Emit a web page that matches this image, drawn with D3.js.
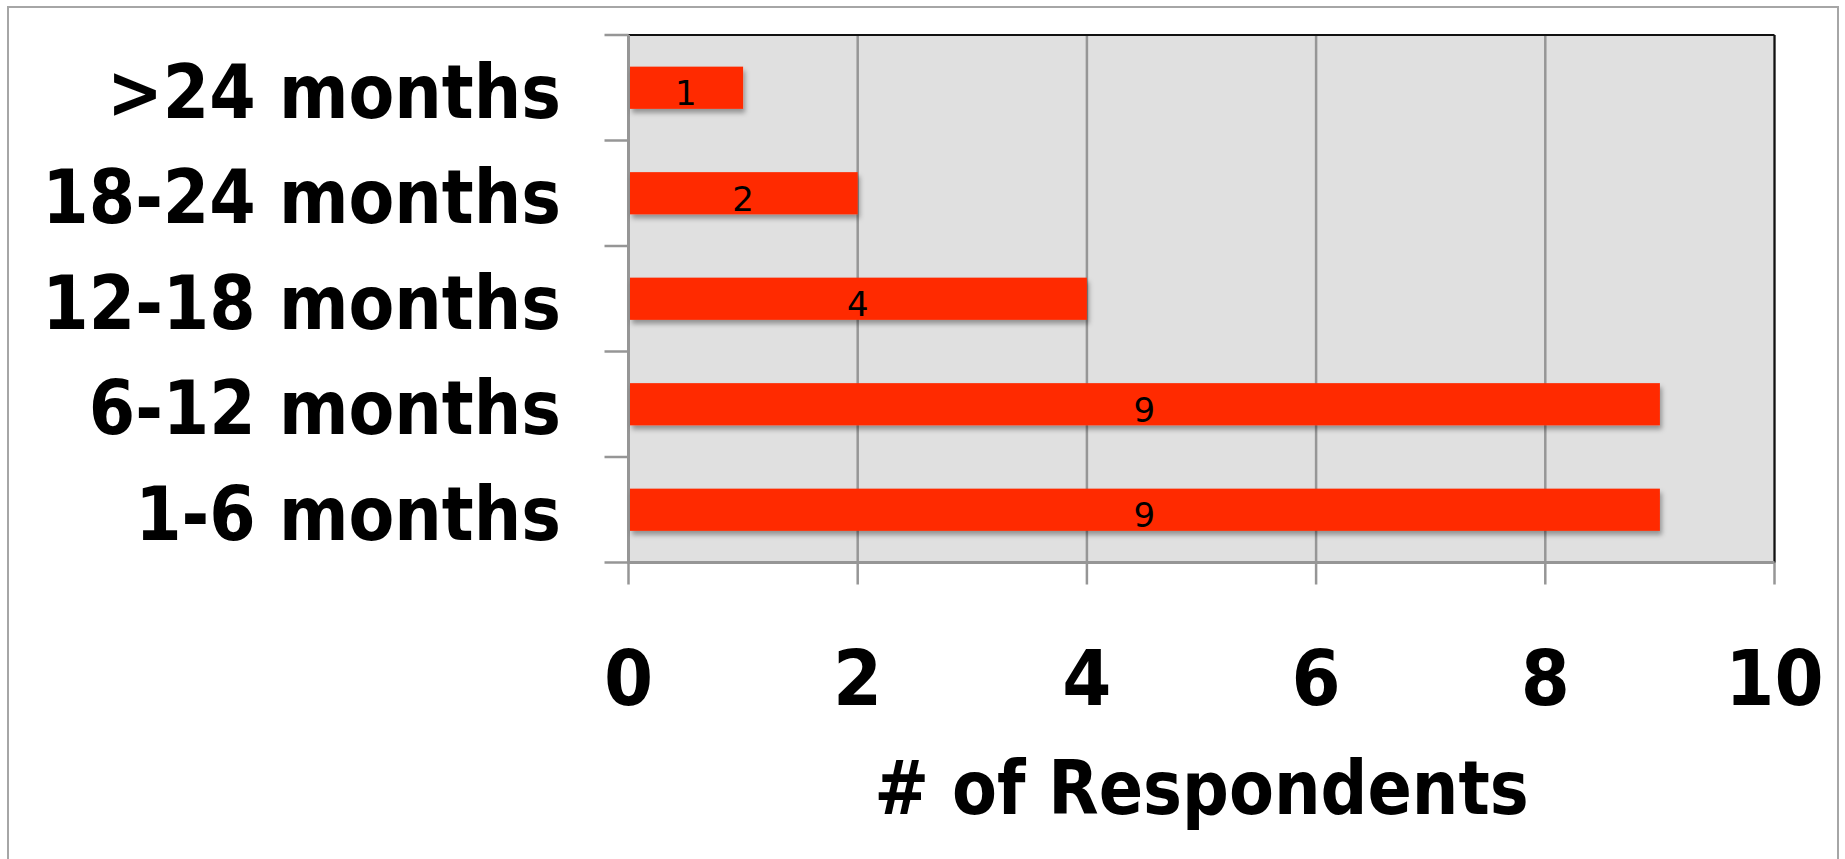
<!DOCTYPE html>
<html>
<head>
<meta charset="utf-8">
<script src="https://cdn.jsdelivr.net/npm/d3@7"></script>
<style>
  body { margin: 0; background: #fff; }
</style>
</head>
<body>
<div id="chart"></div>
<script>
// bar chart: time frame vs number of respondents
var categories = ['1-6 months', '6-12 months', '12-18 months', '18-24 months', '>24 months'];
var respondents = [9, 9, 4, 2, 1];
var xTicks = [0, 2, 4, 6, 8, 10];
var xTitle = '# of Respondents';

var W = 1845, H = 859;
var plot = { left: 628.5, right: 1774.5, top: 35, bottom: 562.5 };

var svg = d3.select('#chart').append('svg').attr('width', W).attr('height', H);

var defs = svg.append('defs');
var shadow = defs.append('filter').attr('id', 'barShadow')
  .attr('x', '-5%').attr('y', '-30%').attr('width', '115%').attr('height', '180%');
shadow.append('feDropShadow').attr('dx', 2).attr('dy', 4).attr('stdDeviation', 2.5)
  .attr('flood-color', '#000').attr('flood-opacity', 0.35);

// outer frame
svg.append('rect').attr('x', 8).attr('y', 7).attr('width', 1830).attr('height', 870)
  .attr('fill', '#fff').attr('stroke', '#a6a6a6').attr('stroke-width', 2);

var x = d3.scaleLinear().domain([0, 10]).range([plot.left, plot.right]);
// top to bottom: last category first
var y = d3.scaleBand().domain(categories.slice().reverse())
  .range([plot.top, plot.bottom]).paddingInner(0.6).paddingOuter(0.3);
var step = y.step();

// plot background
svg.append('rect').attr('x', plot.left).attr('y', plot.top)
  .attr('width', plot.right - plot.left).attr('height', plot.bottom - plot.top)
  .attr('fill', '#e0e0e0');

// vertical gridlines + ticks below
svg.append('g').selectAll('line').data(xTicks).enter().append('line')
  .attr('x1', function (d) { return x(d); }).attr('x2', function (d) { return x(d); })
  .attr('y1', plot.top).attr('y2', plot.bottom + 22)
  .attr('stroke', '#969696').attr('stroke-width', 2.5);

// category ticks on left
var bounds = d3.range(categories.length + 1).map(function (i) { return plot.top + i * step; });
svg.append('g').selectAll('line').data(bounds).enter().append('line')
  .attr('x1', plot.left - 24).attr('x2', plot.left)
  .attr('y1', function (d) { return d; }).attr('y2', function (d) { return d; })
  .attr('stroke', '#969696').attr('stroke-width', 2.5);

// borders: top/right dark, left/bottom gray axes
svg.append('line').attr('x1', plot.left).attr('x2', plot.right).attr('y1', plot.top).attr('y2', plot.top)
  .attr('stroke', '#111').attr('stroke-width', 2);
svg.append('line').attr('x1', plot.right).attr('x2', plot.right).attr('y1', plot.top).attr('y2', plot.bottom)
  .attr('stroke', '#111').attr('stroke-width', 2);
svg.append('line').attr('x1', plot.left).attr('x2', plot.left).attr('y1', plot.top).attr('y2', plot.bottom + 1.5)
  .attr('stroke', '#969696').attr('stroke-width', 3);
svg.append('line').attr('x1', plot.left).attr('x2', plot.right).attr('y1', plot.bottom).attr('y2', plot.bottom)
  .attr('stroke', '#969696').attr('stroke-width', 3);

// bars
var bars = svg.append('g');
bars.selectAll('rect').data(categories).enter().append('rect')
  .attr('x', x(0) + 1.5)
  .attr('y', function (d) { return y(d); })
  .attr('width', function (d, i) { return x(respondents[i]) - x(0) - 1.5; })
  .attr('height', y.bandwidth())
  .attr('fill', '#ff2a00')
  .attr('filter', 'url(#barShadow)');

// value labels
bars.selectAll('text').data(categories).enter().append('text')
  .attr('x', function (d, i) { return (x(0) + x(respondents[i])) / 2; })
  .attr('y', function (d) { return y(d) + y.bandwidth() / 2 + 17.5; })
  .attr('text-anchor', 'middle')
  .attr('font-family', 'DejaVu Sans, Verdana, sans-serif')
  .attr('font-size', 34)
  .attr('fill', '#000')
  .text(function (d, i) { return respondents[i]; });

// category labels
svg.append('g').selectAll('text').data(categories).enter().append('text')
  .attr('transform', function (d) {
    return 'translate(561,' + (y(d) + y.bandwidth() / 2 + 30) + ') scale(0.89,1)';
  })
  .attr('text-anchor', 'end')
  .attr('font-family', 'DejaVu Sans, Verdana, sans-serif')
  .attr('font-weight', 'bold')
  .attr('font-size', 75)
  .text(function (d) { return d; });

// x tick labels
svg.append('g').selectAll('text').data(xTicks).enter().append('text')
  .attr('transform', function (d) { return 'translate(' + x(d) + ',705) scale(0.93,1)'; })
  .attr('text-anchor', 'middle')
  .attr('font-family', 'DejaVu Sans, Verdana, sans-serif')
  .attr('font-weight', 'bold')
  .attr('font-size', 76)
  .text(function (d) { return d; });

// axis title
svg.append('text')
  .attr('transform', 'translate(' + ((plot.left + plot.right) / 2) + ',814) scale(0.885,1)')
  .attr('text-anchor', 'middle')
  .attr('font-family', 'DejaVu Sans, Verdana, sans-serif')
  .attr('font-weight', 'bold')
  .attr('font-size', 74)
  .text(xTitle);
</script>
</body>
</html>
